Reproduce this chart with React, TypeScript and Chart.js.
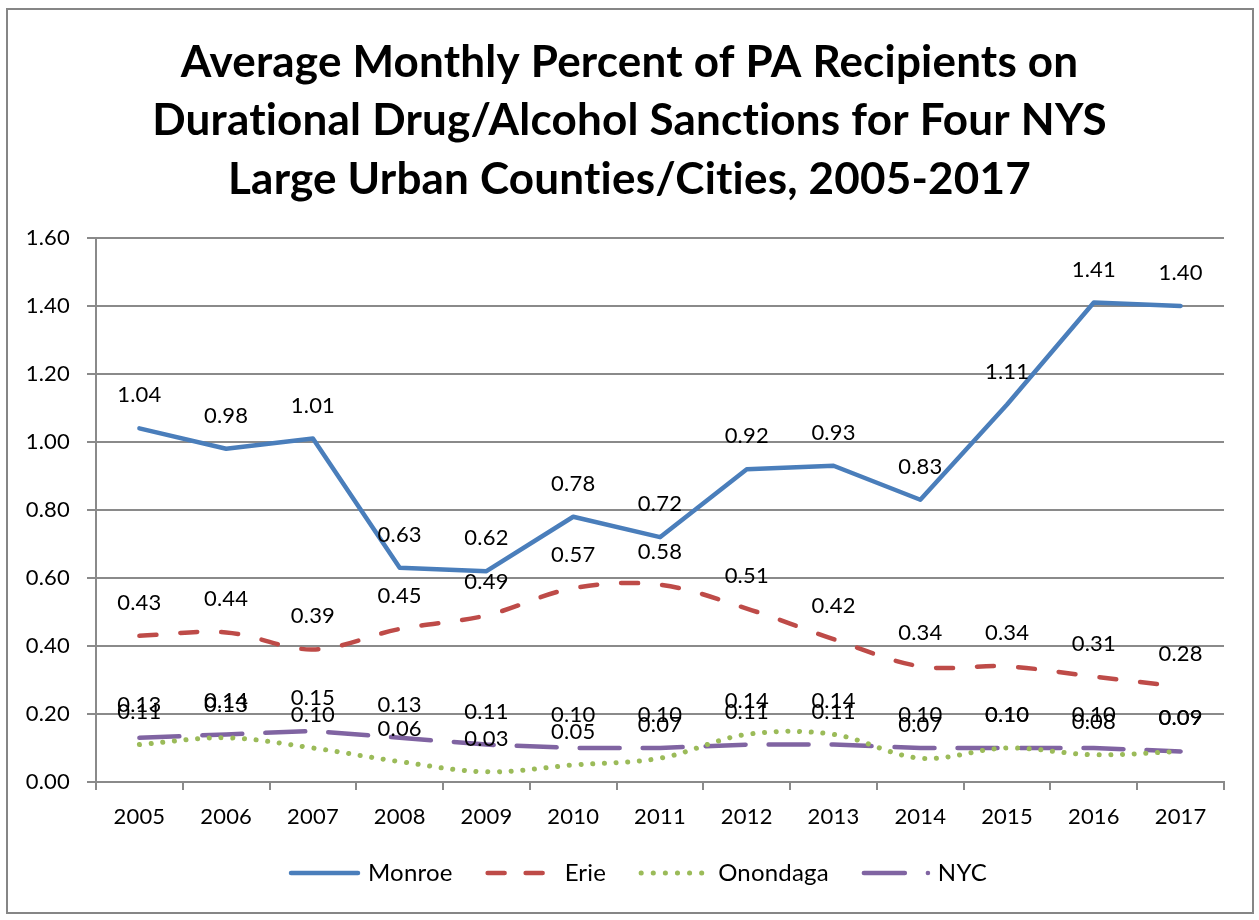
import React, { useEffect, useRef } from "react";
import { Chart, registerables } from "chart.js";

Chart.register(...registerables);

const years = ["2005","2006","2007","2008","2009","2010","2011","2012","2013","2014","2015","2016","2017"];
const monroe = [1.04, 0.98, 1.01, 0.63, 0.62, 0.78, 0.72, 0.92, 0.93, 0.83, 1.11, 1.41, 1.40];
const erie = [0.43, 0.44, 0.39, 0.45, 0.49, 0.57, 0.58, 0.51, 0.42, 0.34, 0.34, 0.31, 0.28];
const onondaga = [0.11, 0.13, 0.10, 0.06, 0.03, 0.05, 0.07, 0.14, 0.14, 0.07, 0.10, 0.08, 0.09];
const nyc = [0.13, 0.14, 0.15, 0.13, 0.11, 0.10, 0.10, 0.11, 0.11, 0.10, 0.10, 0.10, 0.09];
const titleLines = [
  "Average Monthly Percent of PA Recipients on",
  "Durational Drug/Alcohol Sanctions for Four NYS",
  "Large Urban Counties/Cities, 2005-2017",
];

const FONT = "Lato, 'Open Sans', sans-serif";
const GRID = "#8a8a8a";

const spacingPlugin = {
  id: "spacing",
  beforeInit(chart: any) { chart.ctx.letterSpacing = "0.2px"; },
  beforeLayout(chart: any) { chart.ctx.letterSpacing = "0.2px"; },
  beforeDraw(chart: any) { chart.ctx.letterSpacing = "0.2px"; },
};

const labelsPlugin = {
  id: "valueLabels",
  afterDatasetsDraw(chart: any) {
    const ctx = chart.ctx;
    ctx.save();
    ctx.font = `22px ${FONT}`;
    ctx.fillStyle = "#000";
    ctx.textAlign = "center";
    ctx.textBaseline = "middle";
    chart.data.datasets.forEach((ds: any, i: number) => {
      const meta = chart.getDatasetMeta(i);
      meta.data.forEach((pt: any, j: number) => {
        ctx.fillText(Number(ds.data[j]).toFixed(2), pt.x, pt.y - 33);
      });
    });
    ctx.restore();
  },
};

const framePlugin = {
  id: "frame",
  afterDraw(chart: any) {
    const ctx = chart.ctx;
    ctx.save();
    ctx.strokeStyle = "#868686";
    ctx.lineWidth = 2;
    ctx.strokeRect(7, 9, 1246, 904);
    // legend
    ctx.font = `24px ${FONT}`;
    ctx.textBaseline = "middle";
    ctx.textAlign = "left";
    const y = 873;
    let x = 289;
    chart.data.datasets.forEach((ds: any, i: number) => {
      ctx.strokeStyle = ds.borderColor;
      ctx.lineWidth = ds.borderWidth;
      ctx.lineCap = "round";
      ctx.beginPath();
      if (i === 0) {
        ctx.setLineDash([]);
        ctx.moveTo(x + 2, y); ctx.lineTo(x + 69, y);
      } else if (i === 1) {
        ctx.setLineDash([]);
        ctx.moveTo(x + 2, y); ctx.lineTo(x + 19, y);
        ctx.moveTo(x + 40, y); ctx.lineTo(x + 57, y);
      } else if (i === 2) {
        ctx.setLineDash([0.1, 12]);
        ctx.moveTo(x + 2, y); ctx.lineTo(x + 64, y);
      } else {
        ctx.setLineDash([]);
        ctx.moveTo(x + 2, y); ctx.lineTo(x + 43, y);
        ctx.moveTo(x + 66, y); ctx.lineTo(x + 66.1, y);
      }
      ctx.stroke();
      ctx.setLineDash([]);
      ctx.fillStyle = "#000";
      const tx = x + (i === 3 ? 76 : 79);
      ctx.fillText(ds.label, tx, y);
      const w = ctx.measureText(ds.label).width;
      x = tx + w + 33;
    });
    ctx.restore();
  },
};

export default function App() {
  const ref = useRef<HTMLCanvasElement>(null);
  useEffect(() => {
    if (!ref.current) return;
    const chart = new Chart(ref.current, {
      type: "line",
      data: {
        labels: years,
        datasets: [
          { label: "Monroe", data: monroe, borderColor: "#4a7ebb", borderWidth: 4.5, tension: 0, pointRadius: 0, borderCapStyle: "round", borderJoinStyle: "round" },
          { label: "Erie", data: erie, borderColor: "#be4b48", borderWidth: 4.5, tension: 0.35, pointRadius: 0, borderDash: [17, 24], borderCapStyle: "round" },
          { label: "Onondaga", data: onondaga, borderColor: "#9bbb59", borderWidth: 5, tension: 0.35, pointRadius: 0, borderDash: [0.1, 11.6], borderCapStyle: "round" },
          { label: "NYC", data: nyc, borderColor: "#8064a2", borderWidth: 4.5, tension: 0, pointRadius: 0, borderDash: [40, 23], borderCapStyle: "round" },
        ] as any,
      },
      options: {
        responsive: false,
        animation: false,
        layout: { padding: { left: 10, right: 10, top: 8, bottom: 78 } },
        plugins: {
          legend: { display: false },
          tooltip: { enabled: false },
          title: {
            display: true,
            text: titleLines,
            color: "#000",
            font: { family: FONT, size: 44, weight: "bold", lineHeight: 1.336 },
            padding: { top: 25, bottom: 28.6 },
          },
        },
        scales: {
          x: {
            offset: true,
            afterFit(scale: any) { scale.height = 60; },
            grid: { display: true, drawOnChartArea: false, drawTicks: true, tickLength: 8, offset: true, color: GRID, lineWidth: 2 },
            border: { display: true, color: GRID, width: 2 },
            ticks: { color: "#000", font: { family: FONT, size: 22 }, padding: 14, maxRotation: 0 },
          },
          y: {
            min: 0,
            max: 1.6,
            afterFit(scale: any) { scale.width = 86; },
            grid: { color: GRID, lineWidth: 2, tickLength: 9, drawTicks: true },
            border: { display: true, color: GRID, width: 2 },
            ticks: { stepSize: 0.2, color: "#000", font: { family: FONT, size: 22 }, padding: 17, callback: (v: any) => Number(v).toFixed(2) },
          },
          yRight: {
            position: "right",
            min: 0,
            max: 1.6,
            afterFit(scale: any) { scale.width = 25; },
            grid: { display: false, drawOnChartArea: false, drawTicks: false },
            border: { display: false },
            ticks: { display: false },
          },
        },
      },
      plugins: [spacingPlugin, labelsPlugin, framePlugin],
    });
    return () => chart.destroy();
  }, []);
  return (
    <div style={{ position: "absolute", left: 0, top: 0, width: 1259, height: 920, background: "#fff" }}>
      <canvas ref={ref} width={1259} height={920} />
    </div>
  );
}
